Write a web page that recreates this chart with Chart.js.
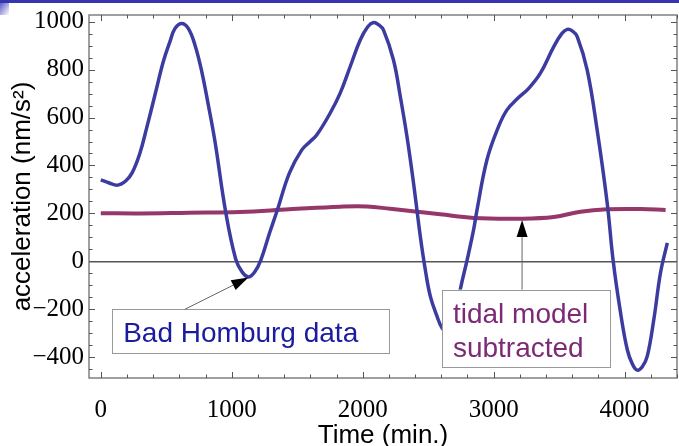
<!DOCTYPE html>
<html>
<head>
<meta charset="utf-8">
<script src="https://cdn.jsdelivr.net/npm/chart.js@4.4.1/dist/chart.umd.min.js"></script>
<style>
    html, body { margin: 0; padding: 0; background: #fff; }
    #wrap { position: relative; width: 679px; height: 446px; }
    #topbar { position: absolute; left: 0; top: 0; width: 679px; height: 3px; background: #3535b0; }
    #corner { position: absolute; left: 0; top: 3px; width: 9px; height: 12px;
              background: linear-gradient(to bottom right, #5a5ac8, rgba(255,255,255,0)); }
</style>
</head>
<body>
<div id="wrap">
    <canvas id="gravChart" width="679" height="446"></canvas>
    <div id="topbar"></div>
    <div id="corner"></div>
</div>
<script>
// gravimeter record (time in min., acceleration in nm/s^2)
var dataTime = [0, 60, 130, 190, 240, 299, 350, 414, 477, 528, 567, 618, 668, 719, 771, 821, 872,
    954, 1030, 1080, 1130, 1175, 1222, 1290, 1349, 1440, 1535, 1599, 1650, 1751, 1828, 1904,
    1981, 2040, 2083, 2120, 2159, 2235, 2287, 2338, 2388, 2440, 2478, 2516, 2567, 2605, 2650,
    2700, 2745, 2797, 2847, 2873, 2949, 3038, 3102, 3180, 3268, 3357, 3459, 3520, 3561, 3600,
    3638, 3714, 3790, 3867, 3913, 3969, 4020, 4060, 4096, 4135, 4173, 4223, 4274, 4326];
var dataAcc = [340, 328, 318, 335, 370, 452, 556, 695, 833, 917, 972, 993, 972, 903, 792, 653, 500,
    205, 10, -45, -65, -45, 5, 120, 215, 368, 465, 500, 528, 618, 702, 812,
    924, 980, 997, 988, 965, 840, 688, 521, 327, 104, -35, -145, -229, -277, -300,
    -260, -118, 5, 132, 215, 424, 563, 632, 678, 722, 785, 896, 950, 968, 962,
    938, 799, 549, 243, 0, -215, -368, -430, -454, -440, -396, -243, -48, 77];

// tidal model that was subtracted
var tideTime = [0, 300, 674, 1063, 1438, 1828, 2032, 2210, 2592, 2847, 3204, 3459, 3663, 3867, 4122, 4313];
var tideAcc = [201, 200, 203, 206, 217, 228, 229, 219, 196, 181, 178, 185, 207, 217, 218, 214];

var xTicks = [0, 1000, 2000, 3000, 4000];
var yTicks = [-400, -200, 0, 200, 400, 600, 800, 1000];
var xMinorStep = 200;
var yMinorStep = 50;

// callout boxes: box = [t1, a1, t2, a2] in data units, arrow from -> to
var notes = [
    { lines: ['Bad Homburg data'], color: '#1b1b9e', box: [87, -201, 2205, -386], from: [643, -200], to: [1127, -68] },
    { lines: ['tidal model', 'subtracted'], color: '#7d2a75', box: [2605, -118, 3887, -441], from: [3217, -118], to: [3217, 172] }
];

function toPoints(xs, ys) {
    return xs.map(function (x, i) { return { x: x, y: ys[i] }; });
}

function fmt(v) {
    return v < 0 ? '\u2212' + Math.abs(v) : String(v);
}

var framePlugin = {
    id: 'frame',
    afterDatasetsDraw: function (chart) {
        var ctx = chart.ctx, a = chart.chartArea;
        var xs = chart.scales.x, ys = chart.scales.y;
        ctx.save();

        // callouts (drawn over the curves, white boxes hide what is behind)
        notes.forEach(function (n) {
            var l = xs.getPixelForValue(n.box[0]), t = ys.getPixelForValue(n.box[1]);
            var r = xs.getPixelForValue(n.box[2]), b = ys.getPixelForValue(n.box[3]);
            ctx.fillStyle = '#fff';
            ctx.fillRect(l, t, r - l, b - t);
            ctx.strokeStyle = '#999';
            ctx.lineWidth = 1;
            ctx.strokeRect(Math.round(l) + 0.5, Math.round(t) + 0.5, Math.round(r - l), Math.round(b - t));
            ctx.fillStyle = n.color;
            ctx.font = '28px "Liberation Sans", Arial, sans-serif';
            ctx.textBaseline = 'alphabetic';
            ctx.textAlign = 'left';
            n.lines.forEach(function (s, i) {
                ctx.fillText(s, l + 11, t + 33 + i * 34);
            });

            var x0 = xs.getPixelForValue(n.from[0]), y0 = ys.getPixelForValue(n.from[1]);
            var x1 = xs.getPixelForValue(n.to[0]), y1 = ys.getPixelForValue(n.to[1]);
            var ang = Math.atan2(y1 - y0, x1 - x0);
            var hl = 17, hw = 5.5;
            var bx = x1 - hl * Math.cos(ang), by = y1 - hl * Math.sin(ang);
            ctx.strokeStyle = '#666';
            ctx.beginPath();
            ctx.moveTo(x0, y0);
            ctx.lineTo(bx, by);
            ctx.stroke();
            ctx.fillStyle = '#000';
            ctx.beginPath();
            ctx.moveTo(x1, y1);
            ctx.lineTo(bx + hw * Math.sin(ang), by - hw * Math.cos(ang));
            ctx.lineTo(bx - hw * Math.sin(ang), by + hw * Math.cos(ang));
            ctx.closePath();
            ctx.fill();
        });

        // frame
        ctx.strokeStyle = '#808080';
        ctx.lineWidth = 1.5;
        ctx.strokeRect(a.left, a.top, a.right - a.left, a.bottom - a.top);

        // tick marks on all four sides, pointing inwards
        ctx.strokeStyle = '#555';
        ctx.lineWidth = 1;
        ctx.beginPath();
        var v, p, len;
        for (v = Math.ceil(xs.min / xMinorStep) * xMinorStep; v <= xs.max; v += xMinorStep) {
            p = Math.round(xs.getPixelForValue(v)) + 0.5;
            len = xTicks.indexOf(v) >= 0 ? 6 : 3.5;
            ctx.moveTo(p, a.bottom); ctx.lineTo(p, a.bottom - len);
            ctx.moveTo(p, a.top); ctx.lineTo(p, a.top + len);
        }
        for (v = Math.ceil(ys.min / yMinorStep) * yMinorStep; v <= ys.max; v += yMinorStep) {
            p = Math.round(ys.getPixelForValue(v)) + 0.5;
            len = yTicks.indexOf(v) >= 0 ? 6 : 3.5;
            ctx.moveTo(a.left, p); ctx.lineTo(a.left + len, p);
            ctx.moveTo(a.right, p); ctx.lineTo(a.right - len, p);
        }
        ctx.stroke();
        ctx.restore();
    }
};

var ctx = document.getElementById('gravChart').getContext('2d');
var gravChart = new Chart(ctx, {
    type: 'line',
    data: {
        datasets: [{
            label: 'Bad Homburg data',
            data: toPoints(dataTime, dataAcc),
            borderColor: '#3c3ca0',
            borderWidth: 3.5,
            pointRadius: 0,
            tension: 0.4,
            fill: false
        }, {
            label: 'tidal model subtracted',
            data: toPoints(tideTime, tideAcc),
            borderColor: '#963769',
            borderWidth: 4,
            pointRadius: 0,
            tension: 0.4,
            fill: false
        }]
    },
    options: {
        responsive: false,
        animation: false,
        layout: { padding: { top: 15, right: 2, left: 0, bottom: 0 } },
        plugins: { legend: { display: false }, tooltip: { enabled: false } },
        scales: {
            x: {
                type: 'linear',
                min: -90,
                max: 4400,
                afterBuildTicks: function (s) { s.ticks = xTicks.map(function (v) { return { value: v }; }); },
                afterFit: function (s) { s.height = 68; s.paddingLeft = 0; s.paddingRight = 0; },
                grid: { display: false },
                border: { display: false },
                ticks: {
                    color: '#000',
                    padding: 9,
                    maxRotation: 0,
                    font: { family: '"Liberation Serif", "Times New Roman", serif', size: 25 },
                    callback: fmt
                },
                title: {
                    display: true,
                    text: 'Time (min.)',
                    color: '#000',
                    padding: { top: 0, bottom: 0 },
                    font: { family: '"Liberation Sans", Arial, sans-serif', size: 26, lineHeight: 0.8 }
                }
            },
            y: {
                type: 'linear',
                min: -487,
                max: 1028,
                afterBuildTicks: function (s) { s.ticks = yTicks.map(function (v) { return { value: v }; }); },
                afterFit: function (s) { s.width = 89; s.paddingTop = 0; s.paddingBottom = 0; },
                grid: {
                    drawTicks: false,
                    lineWidth: 1.5,
                    color: function (c) { return c.tick && c.tick.value === 0 ? '#555' : 'rgba(0,0,0,0)'; }
                },
                border: { display: false },
                ticks: {
                    color: '#000',
                    padding: 5,
                    font: { family: '"Liberation Serif", "Times New Roman", serif', size: 25 },
                    callback: fmt
                },
                title: {
                    display: true,
                    text: 'acceleration (nm/s\u00b2)',
                    color: '#000',
                    padding: { top: 12, bottom: 0 },
                    font: { family: '"Liberation Sans", Arial, sans-serif', size: 26, lineHeight: 0.8 }
                }
            }
        }
    },
    plugins: [framePlugin]
});
</script>
</body>
</html>
